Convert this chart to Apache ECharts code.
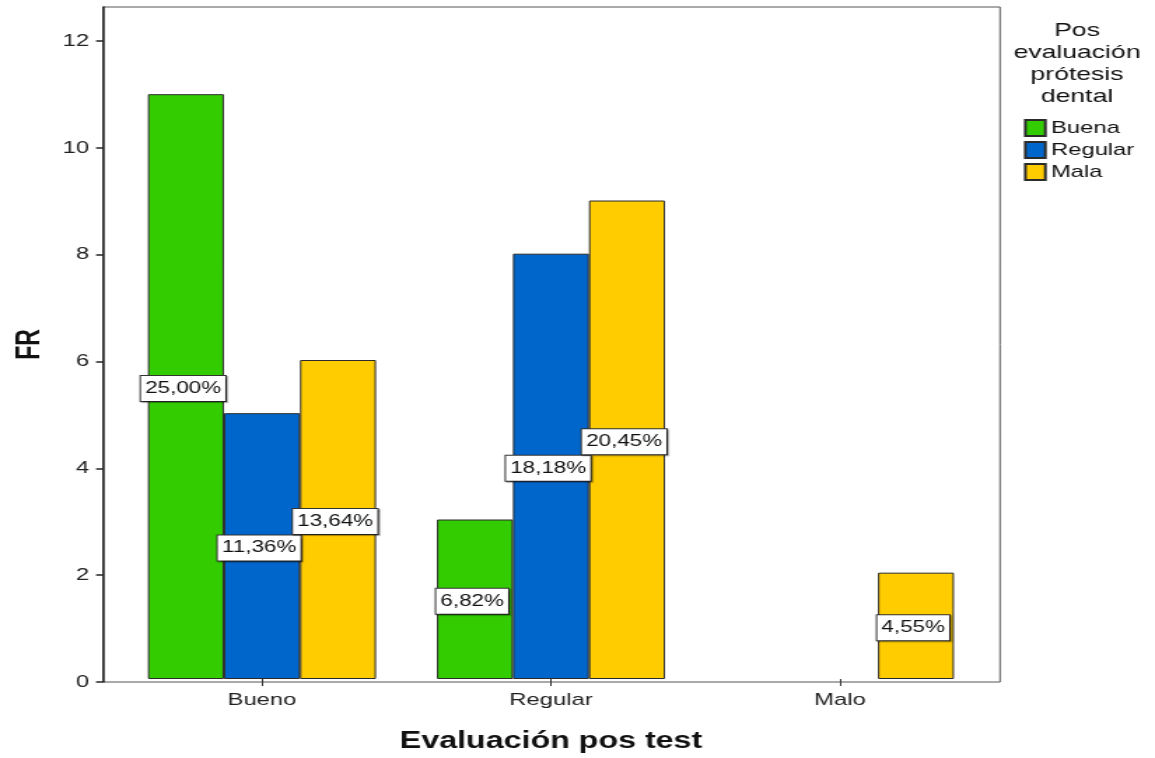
<!DOCTYPE html>
<html>
<head>
<meta charset="utf-8">
<title>Evaluación pos test</title>
<script src="https://cdn.jsdelivr.net/npm/echarts@6/dist/echarts.min.js"></script>
<style>
  html, body { margin: 0; padding: 0; background: #fff; overflow: hidden; }
  /* The chart is laid out on a narrower canvas and widened horizontally,
     which gives the broad, stretched lettering of the original export. */
  #chart { width: 825px; height: 758px; transform: scaleX(1.4); transform-origin: 0 0; }
</style>
</head>
<body>
<div id="chart"></div>
<script>
// Categories on the x axis (post-test evaluation)
const categories = ['Bueno', 'Regular', 'Malo'];
// Counts per denture evaluation group
const buena = [11, 3, null];
const regular = [5, 8, null];
const mala = [6, 9, 2];
const seriesNames = ['Buena', 'Regular', 'Mala'];
const yTicks = [0, 2, 4, 6, 8, 10, 12];

const colors = ['#33cc00', '#0066cc', '#ffcc00'];
const FONT = '"Liberation Sans", Arial, sans-serif';

const total = [buena, regular, mala].flat().reduce((s, v) => s + (v || 0), 0);
const pct = v => (v / total * 100).toFixed(2).replace('.', ',') + '%';

const yMax = 12.64;

function barSeries(name, data, color) {
  return {
    name: name,
    type: 'bar',
    xAxisIndex: 1,
    yAxisIndex: 1,
    data: data,
    barWidth: 54.3,
    barGap: '0%',
    itemStyle: { color: color, borderColor: '#2b2b2b', borderWidth: 1 },
    label: {
      show: true,
      position: 'inside',
      offset: [-2, 2],
      formatter: p => pct(p.value),
      fontFamily: FONT,
      fontSize: 16,
      lineHeight: 16,
      color: '#111',
      backgroundColor: '#fff',
      borderColor: '#333',
      borderWidth: 1,
      padding: [5, 3, 4, 3],
      shadowColor: 'rgba(0,0,0,0.35)',
      shadowOffsetX: 1,
      shadowOffsetY: 1,
      shadowBlur: 1
    },
    emphasis: { disabled: true }
  };
}

const chart = echarts.init(document.getElementById('chart'), null, { renderer: 'canvas' });
chart.setOption({
  animation: false,
  backgroundColor: '#fff',
  grid: [
    { left: 73.6, right: 110.7, top: 7, bottom: 76, show: true, borderColor: '#555', borderWidth: 1, backgroundColor: 'transparent' },
    { left: 83.9, right: 121.8, top: 7, bottom: 76 }
  ],
  xAxis: [
    { type: 'value', gridIndex: 0, min: 0, max: 1, show: false },
    {
      type: 'category', gridIndex: 1, data: categories,
      axisLine: { show: false },
      axisTick: { show: true, alignWithLabel: true, length: 7, lineStyle: { color: '#333', width: 1 } },
      axisLabel: { fontFamily: FONT, fontSize: 17, color: '#222', margin: 13 },
      name: 'Evaluación pos test',
      nameLocation: 'middle',
      nameGap: 51,
      nameTextStyle: { fontFamily: FONT, fontSize: 23, fontWeight: 'bold', color: '#111' }
    }
  ],
  yAxis: [
    {
      type: 'value', gridIndex: 0, min: 0, max: yMax,
      axisLine: { show: true, lineStyle: { color: '#222', width: 1.5 } },
      axisTick: { show: true, length: 5, customValues: yTicks, lineStyle: { color: '#222', width: 1.5 } },
      axisLabel: { customValues: yTicks, fontFamily: FONT, fontSize: 17, color: '#222', margin: 10 },
      splitLine: { show: false },
      name: 'FR',
      nameLocation: 'middle',
      nameGap: 40,
      nameTextStyle: { fontFamily: FONT, fontSize: 23, fontWeight: 'bold', color: '#111' }
    },
    { type: 'value', gridIndex: 1, min: 0, max: yMax, show: false }
  ],
  legend: {
    orient: 'vertical',
    left: 731.4,
    top: 119,
    padding: 0,
    itemWidth: 14.3,
    itemHeight: 16,
    itemGap: 4,
    icon: 'rect',
    data: seriesNames,
    textStyle: { fontFamily: FONT, fontSize: 17, lineHeight: 16, color: '#111', padding: [0, 0, 0, -1] }
  },
  graphic: [
    {
      type: 'text',
      x: 769.3,
      y: 20,
      style: {
        text: 'Pos\nevaluación\nprótesis\ndental',
        align: 'center',
        verticalAlign: 'top',
        font: '19px ' + FONT,
        lineHeight: 22,
        fill: '#111'
      }
    }
  ],
  series: [
    barSeries(seriesNames[0], buena, colors[0]),
    barSeries(seriesNames[1], regular, colors[1]),
    barSeries(seriesNames[2], mala, colors[2])
  ]
});
</script>
</body>
</html>
